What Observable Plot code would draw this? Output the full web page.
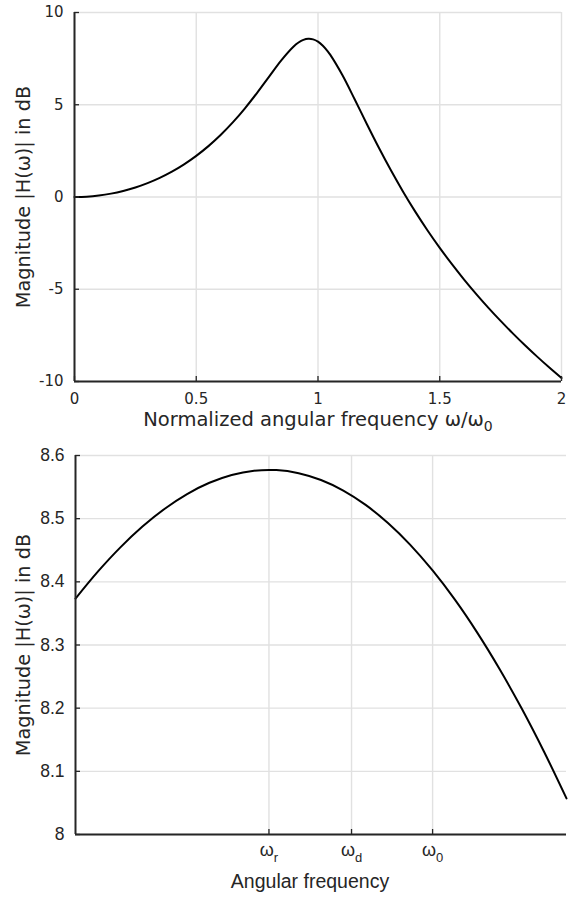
<!DOCTYPE html>
<html><head><meta charset="utf-8">
<script src="https://cdn.jsdelivr.net/npm/d3@7"></script>
<script src="https://cdn.jsdelivr.net/npm/@observablehq/plot@0.6"></script>
<style>
html,body{margin:0;padding:0;background:#fff;}
#c svg{display:block;}
</style></head><body><div id="c"></div>
<script>
// Top panel: magnitude response over normalized frequency
const freqTop = [0,0.05,0.1,0.15,0.2,0.25,0.3,0.35,0.4,0.45,0.5,0.55,0.6,0.65,0.7,0.75,0.8,0.85,0.9,0.92,0.94,0.96,0.98,1,1.02,1.04,1.05,1.1,1.15,1.2,1.25,1.3,1.35,1.4,1.45,1.5,1.55,1.6,1.65,1.7,1.75,1.8,1.85,1.9,1.95,2];
const magTop = [0,0.020,0.081,0.183,0.328,0.516,0.752,1.037,1.375,1.771,2.230,2.757,3.359,4.042,4.807,5.648,6.542,7.423,8.162,8.374,8.516,8.576,8.545,8.418,8.199,7.896,7.716,6.610,5.311,3.970,2.666,1.431,0.274,-0.805,-1.813,-2.756,-3.641,-4.475,-5.262,-6.008,-6.716,-7.391,-8.035,-8.652,-9.244,-9.812];
const xTicksTop = [0,0.5,1,1.5,2];
const yTicksTop = [-10,-5,0,5,10];

// Bottom panel: zoom around the resonance peak
const freqZoom = [0.92,0.925,0.93,0.935,0.94,0.945,0.95,0.955,0.96,0.965,0.97,0.975,0.98,0.985,0.99,0.995,1.0,1.005,1.01,1.015,1.02,1.025,1.03];
const magZoom = [8.3735,8.4161,8.4542,8.4875,8.5158,8.5390,8.5568,8.5692,8.5759,8.5769,8.5720,8.5612,8.5445,8.5218,8.4931,8.4585,8.4180,8.3717,8.3196,8.2620,8.1990,8.1306,8.0571];
const xTicksZoom = [0.96334,0.98184,1.0];
const xTickBase = ["ω","ω","ω"];
const xTickSub = ["r","d","0"];
const yTicksZoom = [8,8.1,8.2,8.3,8.4,8.5,8.6];

const topData = freqTop.map((w,i)=>({w, db: magTop[i]}));
const zoomData = freqZoom.map((w,i)=>({w, db: magZoom[i]}));

const AX = "#262626", GRID = "#e1e1e1";

function addSub(svg, full, base, s, subSize, dy) {
  d3.select(svg).selectAll("text").filter(function(){return this.textContent === full;}).each(function(){
    const t = d3.select(this);
    t.selectAll("*").remove();
    t.text(null);
    t.append("tspan").text(base);
    t.append("tspan").attr("dy", dy).attr("font-size", subSize).text(s);
  });
}

// ---- Top ----
const W = 568;
const tp = {h: 440, mt: 12, mb: 59, ml: 74, mr: 7};
const tIW = W - tp.ml - tp.mr, tIH = tp.h - tp.mt - tp.mb;
const xLabelTop = "Normalized angular frequency ω/ω0";
const yLabel = "Magnitude |H(ω)| in dB";
const chartTop = Plot.plot({
  width: W, height: tp.h, marginTop: tp.mt, marginBottom: tp.mb, marginLeft: tp.ml, marginRight: tp.mr,
  style: {fontFamily: "DejaVu Sans", fontSize: "15px", color: AX, background: "#fff"},
  x: {domain: [0,2]},
  y: {domain: [-10,10]},
  marks: [
    Plot.gridX(xTicksTop, {stroke: GRID, strokeOpacity: 1, strokeWidth: 1.4}),
    Plot.gridY(yTicksTop, {stroke: GRID, strokeOpacity: 1, strokeWidth: 1.4}),
    Plot.line(topData, {x: "w", y: "db", stroke: "#000", strokeWidth: 2, curve: "catmull-rom"}),
    Plot.ruleX([0], {stroke: AX, strokeWidth: 2}),
    Plot.ruleY([-10], {stroke: AX, strokeWidth: 2}),
    Plot.tickY(yTicksTop, {y: d => d, stroke: AX, strokeWidth: 1.3, insetRight: tIW - 5}),
    Plot.tickX(xTicksTop, {x: d => d, stroke: AX, strokeWidth: 1.3, insetTop: tIH - 5}),
    Plot.axisX(xTicksTop, {tickSize: 0, tickPadding: 12, label: null, tickFormat: d => String(d), fontSize: 15, fill: AX}),
    Plot.axisY(yTicksTop, {tickSize: 0, tickPadding: 11, label: null, tickFormat: d => String(d), fontSize: 15, fill: AX}),
    Plot.text([xLabelTop], {frameAnchor: "bottom", dy: 44, fontSize: 19.5, fill: AX}),
    Plot.text([yLabel], {frameAnchor: "left", textAnchor: "middle", dx: -51, rotate: -90, fontSize: 19.3, fill: AX})
  ]
});
addSub(chartTop, xLabelTop, "Normalized angular frequency ω/ω", "0", 14, "0.4em");

// ---- Bottom ----
const bt = {h: 457, mt: 15, mb: 63, ml: 75, mr: 2};
const bIW = W - bt.ml - bt.mr, bIH = bt.h - bt.mt - bt.mb;
const xTickText = xTickBase.map((s,i)=> s + xTickSub[i]);
const chartBottom = Plot.plot({
  width: W, height: bt.h, marginTop: bt.mt, marginBottom: bt.mb, marginLeft: bt.ml, marginRight: bt.mr,
  style: {fontFamily: "Liberation Sans", fontSize: "17px", color: AX, background: "#fff"},
  x: {domain: [0.92,1.03]},
  y: {domain: [8,8.6]},
  marks: [
    Plot.gridX(xTicksZoom, {stroke: GRID, strokeOpacity: 1, strokeWidth: 1.4}),
    Plot.gridY(yTicksZoom, {stroke: GRID, strokeOpacity: 1, strokeWidth: 1.4}),
    Plot.line(zoomData, {x: "w", y: "db", stroke: "#000", strokeWidth: 2, curve: "catmull-rom"}),
    Plot.ruleX([0.92], {stroke: AX, strokeWidth: 2}),
    Plot.ruleY([8], {stroke: AX, strokeWidth: 2}),
    Plot.tickY(yTicksZoom, {y: d => d, stroke: AX, strokeWidth: 1.3, insetRight: bIW - 5}),
    Plot.tickX(xTicksZoom, {x: d => d, stroke: AX, strokeWidth: 1.3, insetTop: bIH - 5}),
    Plot.axisX(xTicksZoom, {tickSize: 0, tickPadding: 9, label: null, tickFormat: (d,i) => xTickText[i], fontSize: 18, fill: AX}),
    Plot.axisY(yTicksZoom, {tickSize: 0, tickPadding: 11, label: null, tickFormat: d => String(d), fontSize: 17.5, fill: AX}),
    Plot.text(["Angular frequency"], {frameAnchor: "bottom", dx: -11, dy: 53, fontSize: 19.5, fill: AX}),
    Plot.text([yLabel], {frameAnchor: "left", textAnchor: "middle", dx: -52, rotate: -90, fontSize: 19.3, fill: AX, fontFamily: "DejaVu Sans"})
  ]
});
xTickText.forEach((s,i)=> addSub(chartBottom, s, xTickBase[i], xTickSub[i], 13, "0.45em"));

document.getElementById("c").append(chartTop, chartBottom);
</script>
</body></html>
